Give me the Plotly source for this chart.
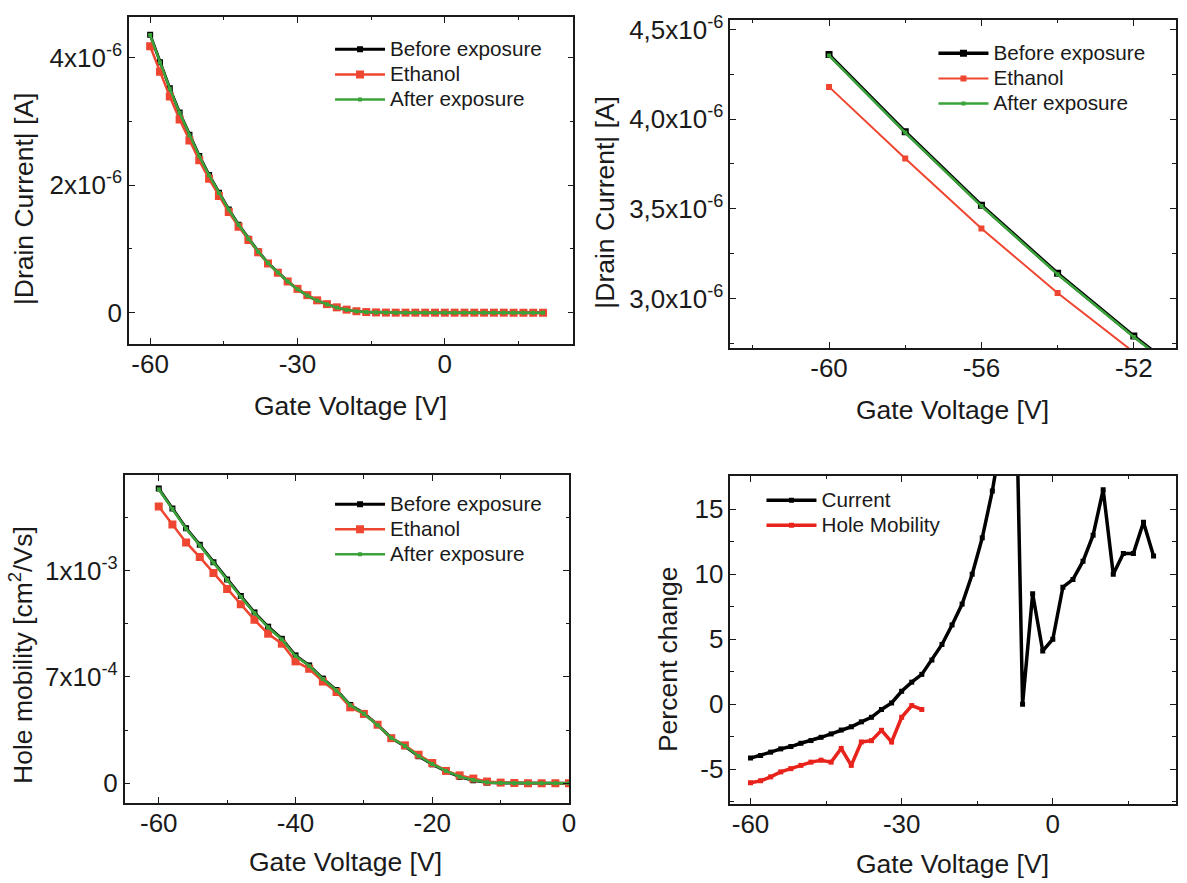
import plotly.graph_objects as go

# ---------------- data ----------------
gate_v = [-60, -58, -56, -54, -52, -50, -48, -46, -44, -42, -40, -38, -36, -34, -32, -30,
          -28, -26, -24, -22, -20, -18, -16, -14, -12, -10, -8, -6, -4, -2, 0,
          2, 4, 6, 8, 10, 12, 14, 16, 18, 20]

# |Drain current| in micro-amps
cur_before_uA = [4.36, 3.93, 3.52, 3.14, 2.79, 2.46, 2.16, 1.88, 1.62, 1.38, 1.16, 0.96, 0.78, 0.63,
                 0.49, 0.37, 0.27, 0.19, 0.13, 0.08, 0.045, 0.021, 0.009, 0.004, 0.0015, 0.0008,
                 0.0005, 0.0004, 0.0004, 0.0004, 0.0004, 0.0004, 0.0004, 0.0004, 0.0004, 0.0004,
                 0.0004, 0.0004, 0.0004, 0.0004, 0.0004]
cur_ethanol_uA = [4.18, 3.78, 3.39, 3.03, 2.70, 2.39, 2.10, 1.83, 1.58, 1.35, 1.14, 0.947, 0.772, 0.627,
                  0.49, 0.374, 0.275, 0.194, 0.134, 0.084, 0.048, 0.023, 0.010, 0.0045, 0.0018, 0.0009,
                  0.0007, 0.0004, 0.0004, 0.0004, 0.0004, 0.0004, 0.0004, 0.0004, 0.0004, 0.0004,
                  0.0004, 0.0004, 0.0004, 0.0004, 0.0004]
cur_after_uA = [4.355, 3.925, 3.515, 3.135, 2.785, 2.455, 2.155, 1.877, 1.618, 1.378, 1.158, 0.958, 0.779,
                0.629, 0.489, 0.369, 0.269, 0.19, 0.13, 0.08, 0.045, 0.021, 0.009, 0.004, 0.0015, 0.0008,
                0.0005, 0.0004, 0.0004, 0.0004, 0.0004, 0.0004, 0.0004, 0.0004, 0.0004, 0.0004,
                0.0004, 0.0004, 0.0004, 0.0004, 0.0004]

mob_v = [-60, -58, -56, -54, -52, -50, -48, -46, -44, -42, -40, -38, -36, -34, -32, -30,
         -28, -26, -24, -22, -20, -18, -16, -14, -12, -10, -8, -6, -4, -2, 0]
# hole mobility in units of 1e-3 cm^2/Vs
mob_before_m = [1.385, 1.292, 1.199, 1.121, 1.039, 0.958, 0.880, 0.803, 0.736, 0.679, 0.601, 0.554,
                0.492, 0.438, 0.368, 0.329, 0.275, 0.213, 0.174, 0.127, 0.089, 0.057, 0.030, 0.014,
                0.003, 0.001, 0.0005, 0.0003, 0.0002, 0.0002, 0.0002]
mob_ethanol_m = [1.301, 1.216, 1.132, 1.063, 0.988, 0.913, 0.841, 0.768, 0.703, 0.656, 0.573, 0.538,
                 0.478, 0.429, 0.357, 0.326, 0.275, 0.212, 0.178, 0.134, 0.095, 0.058, 0.037, 0.022,
                 0.008, 0.003, 0.001, 0.0005, 0.0003, 0.0003, 0.0003]
mob_after_m = [1.382, 1.289, 1.196, 1.118, 1.036, 0.955, 0.877, 0.800, 0.733, 0.676, 0.598, 0.552,
               0.490, 0.436, 0.367, 0.327, 0.273, 0.213, 0.175, 0.128, 0.090, 0.058, 0.031, 0.015,
               0.004, 0.0012, 0.0005, 0.0003, 0.0002, 0.0002, 0.0002]

pc_current = [-4.14, -3.93, -3.68, -3.43, -3.25, -3.0, -2.79, -2.54, -2.28, -1.98, -1.73, -1.35, -1.0,
              -0.4, 0.1, 1.0, 1.7, 2.3, 3.4, 4.6, 6.1, 7.7, 10.0, 12.8, 16.4, 21.0, 38.0, 0.0,
              8.5, 4.1, 5.0, 9.0, 9.6, 11.0, 13.0, 16.5, 10.0, 11.6, 11.6, 14.0, 11.4]
pm_v = [-60, -58, -56, -54, -52, -50, -48, -46, -44, -42, -40, -38, -36, -34, -32, -30, -28, -26]
pc_mobility = [-6.04, -5.89, -5.58, -5.2, -4.95, -4.7, -4.45, -4.3, -4.45, -3.4, -4.7, -2.9,
               -2.8, -2.0, -2.9, -1.0, -0.1, -0.4]

cur_before = [v * 1e-6 for v in cur_before_uA]
cur_ethanol = [v * 1e-6 for v in cur_ethanol_uA]
cur_after = [v * 1e-6 for v in cur_after_uA]
mob_before = [v * 1e-3 for v in mob_before_m]
mob_ethanol = [v * 1e-3 for v in mob_ethanol_m]
mob_after = [v * 1e-3 for v in mob_after_m]

# ---------------- style ----------------
BLACK = "#000000"
RED = "#EE4630"
GREEN = "#3AA33A"
PC_RED = "#E8231C"
FONT = "Arial, Liberation Sans, sans-serif"
TXT = "#1a1a1a"
W, H = 1187, 883
LEG_SIZE = 20.7
TICK_SIZE = 26
TITLE_SIZE = 26.5


def lname(s):
    return f'<span style="font-size:{LEG_SIZE}px">{s}</span>'


fig = go.Figure()


def add3(x, yb, ye, ya, xa, ya_, leg, sizes, widths):
    fig.add_trace(go.Scatter(x=x, y=yb, mode="lines+markers", name=lname("Before exposure"),
                             line=dict(color=BLACK, width=widths[0]),
                             marker=dict(symbol="square", size=sizes[0], color=BLACK),
                             xaxis=xa, yaxis=ya_, legend=leg))
    fig.add_trace(go.Scatter(x=x, y=ye, mode="lines+markers", name=lname("Ethanol"),
                             line=dict(color=RED, width=widths[1]),
                             marker=dict(symbol="square", size=sizes[1], color=RED),
                             xaxis=xa, yaxis=ya_, legend=leg))
    fig.add_trace(go.Scatter(x=x, y=ya, mode="lines+markers", name=lname("After exposure"),
                             line=dict(color=GREEN, width=widths[2]),
                             marker=dict(symbol="square", size=sizes[2], color=GREEN),
                             xaxis=xa, yaxis=ya_, legend=leg))


add3(gate_v, cur_before, cur_ethanol, cur_after, "x", "y", "legend", (6, 8, 4), (3, 2.5, 2.5))
add3(gate_v, cur_before, cur_ethanol, cur_after, "x2", "y2", "legend2", (7, 6, 4), (3.5, 2, 2.5))
add3(mob_v, mob_before, mob_ethanol, mob_after, "x3", "y3", "legend3", (6, 8, 4), (3, 2.5, 2.5))

fig.add_trace(go.Scatter(x=gate_v, y=pc_current, mode="lines+markers", name=lname("Current"),
                         line=dict(color=BLACK, width=3.5),
                         marker=dict(symbol="square", size=5, color=BLACK),
                         xaxis="x4", yaxis="y4", legend="legend4"))
fig.add_trace(go.Scatter(x=pm_v, y=pc_mobility, mode="lines+markers", name=lname("Hole Mobility"),
                         line=dict(color=PC_RED, width=3.5),
                         marker=dict(symbol="square", size=5, color=PC_RED),
                         xaxis="x4", yaxis="y4", legend="legend4"))


def px(x):
    return x / W


def py(y):
    return 1 - y / H


def axis(domain, rng, tickvals, ticktext, minor_vals, anchor, standoff=0):
    return dict(domain=domain, range=rng, tickvals=tickvals, ticktext=ticktext,
                showline=True, linecolor=TXT, linewidth=1.5, mirror="allticks",
                ticks="inside", ticklen=6, tickwidth=1.2, tickcolor=TXT,
                showgrid=False, zeroline=False, anchor=anchor,
                ticklabelstandoff=standoff, ticklabeloverflow="allow",
                tickfont=dict(family=FONT, size=TICK_SIZE, color=TXT),
                minor=dict(tickvals=minor_vals, ticks="inside", ticklen=3.5,
                           tickwidth=1.2, tickcolor=TXT, showgrid=False))


def sup(m, e):
    return f"{m}x10<sup>{e}</sup>"


layout = dict(
    width=W, height=H, paper_bgcolor="white", plot_bgcolor="white",
    margin=dict(l=0, r=0, t=0, b=0), font=dict(family=FONT, color=TXT),
    showlegend=True,
    # panel 1
    xaxis=axis([px(129.8), px(576.9)], [-64.3, 26.2], [-60, -30, 0], ["-60", "-30", "0"],
               [-45, -15, 15], "y", -4),
    yaxis=axis([py(339), py(9)], [-0.49e-6, 4.64e-6], [0, 2e-6, 4e-6],
               ["0", sup(2, -6), sup(4, -6)], [1e-6, 3e-6], "x"),
    # panel 2
    xaxis2=axis([px(734.7), px(1182.7)], [-62.59, -50.9], [-60, -56, -52], ["-60", "-56", "-52"],
                [-62, -58, -54], "y2", -4),
    yaxis2=axis([py(343), py(12.3)], [2.724e-6, 4.552e-6], [3.0e-6, 3.5e-6, 4.0e-6, 4.5e-6],
                [sup("3,0", -6), sup("3,5", -6), sup("4,0", -6), sup("4,5", -6)],
                [2.75e-6, 3.25e-6, 3.75e-6, 4.25e-6], "x2"),
    # panel 3
    xaxis3=axis([px(125.3), px(572.4)], [-65, 0], [-60, -40, -20, 0], ["-60", "-40", "-20", "0"],
                [-50, -30, -10], "y3", -4),
    yaxis3=axis([py(802.3), py(471.7)], [-0.093e-3, 1.447e-3], [0, 0.5e-3, 1e-3],
                ["0", sup(7, -4), sup(1, -3)], [0.25e-3, 0.75e-3, 1.25e-3], "x3"),
    # panel 4
    xaxis4=axis([px(734.7), px(1182.7)], [-64, 24.4], [-60, -30, 0], ["-60", "-30", "0"],
                [-45, -15, 15], "y4", -4),
    yaxis4=axis([py(803.3), py(472.3)], [-7.67, 17.55], [-5, 0, 5, 10, 15],
                ["-5", "0", "5", "10", "15"], [-7.5, -2.5, 2.5, 7.5, 12.5, 17.5], "x4"),
)


def leg(x, y):
    return dict(x=px(x), y=py(y), xanchor="left", yanchor="top", bgcolor="rgba(0,0,0,0)",
                borderwidth=0, font=dict(family=FONT, size=17, color=TXT),
                tracegroupgap=0, itemwidth=50)


layout["legend"] = leg(332, 24)
layout["legend2"] = leg(939, 28)
layout["legend3"] = leg(332, 483)
layout["legend4"] = leg(766, 479)

fig.update_layout(**layout)


def title(x, y, text, angle=0):
    fig.add_annotation(x=px(x), y=py(y), xref="paper", yref="paper", text=text,
                       showarrow=False, textangle=angle, xanchor="center", yanchor="middle",
                       font=dict(family=FONT, size=TITLE_SIZE, color=TXT))


title(353, 402, "Gate Voltage [V]")
title(958, 406, "Gate Voltage [V]")
title(348, 862, "Gate Voltage [V]")
title(958, 864, "Gate Voltage [V]")
title(24, 192, "|Drain Current| [A]", -90)
title(609, 196, "|Drain Current| [A]", -90)
title(21, 653, "Hole mobility [cm<sup>2</sup>/Vs]", -90)
title(672, 657, "Percent change", -90)

fig.write_html("out.html", config={"displayModeBar": False},
               post_script="document.body.style.margin='0px';document.body.style.overflow='hidden';")
